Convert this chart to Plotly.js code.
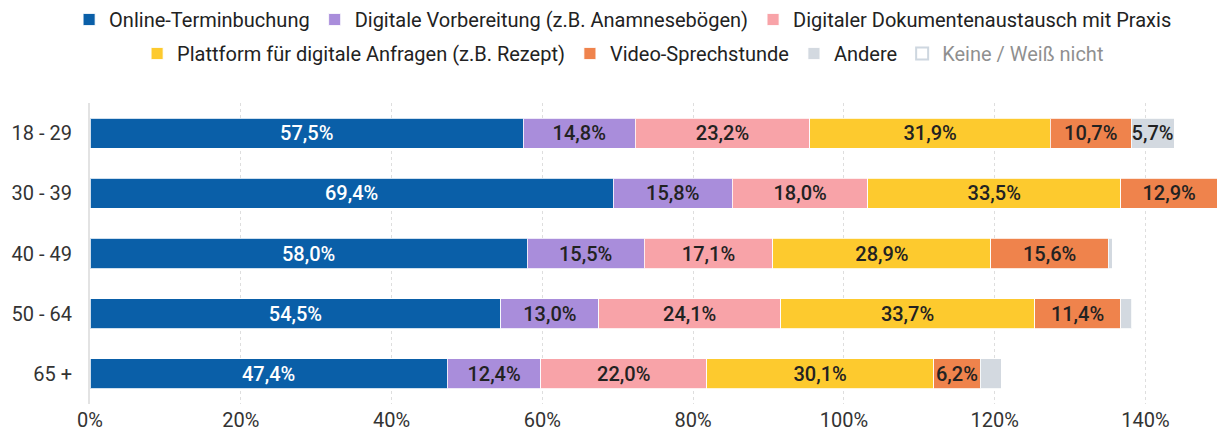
<!DOCTYPE html>
<html>
<head>
<meta charset="utf-8">
<script src="https://cdn.plot.ly/plotly-3.0.1.min.js"></script>
<style>html,body{margin:0;padding:0;background:#fff;}#chart{width:1217px;height:432px;}</style>
</head>
<body>
<div id="chart"></div>
<script>
const categories = ["18 - 29", "30 - 39", "40 - 49", "50 - 64", "65 +"];
const seriesNames = [
  "Online-Terminbuchung",
  "Digitale Vorbereitung (z.B. Anamnesebögen)",
  "Digitaler Dokumentenaustausch mit Praxis",
  "Plattform für digitale Anfragen (z.B. Rezept)",
  "Video-Sprechstunde",
  "Andere",
  "Keine / Weiß nicht"
];
const onlineTermin    = [57.5, 69.4, 58.0, 54.5, 47.4];
const digVorbereitung = [14.8, 15.8, 15.5, 13.0, 12.4];
const dokAustausch    = [23.2, 18.0, 17.1, 24.1, 22.0];
const plattform       = [31.9, 33.5, 28.9, 33.7, 30.1];
const videoSprech     = [10.7, 12.9, 15.6, 11.4, 6.2];
const andere          = [5.7, 1.0, 0.5, 1.5, 2.8];
const keine           = [null, null, null, null, null];
const xTickVals  = [0, 20, 40, 60, 80, 100, 120, 140];
const xTickText  = ["0%", "20%", "40%", "60%", "80%", "100%", "120%", "140%"];

const colors = ["#0a5fa8", "#a98ddb", "#f8a3a8", "#fdca2e", "#ef834c", "#d3d9e0", "#ffffff"];
const textColors = ["#ffffff", "#222222", "#222222", "#222222", "#222222", "#222222", "#222222"];
const values = [onlineTermin, digVorbereitung, dokAustausch, plattform, videoSprech, andere, keine];
const legendOf = ["legend", "legend", "legend", "legend2", "legend2", "legend2", "legend2"];

const traces = values.map((v, i) => ({
  type: "bar",
  orientation: "h",
  name: seriesNames[i],
  legend: legendOf[i],
  y: categories,
  x: v,
  width: 0.5,
  marker: {
    color: colors[i],
    line: i === 6 ? {color: "#9fb0c2", width: 2} : {color: "rgba(255,255,255,0.8)", width: 1}
  },
  texttemplate: v.map(val => (val !== null && val >= 5) ? "%{x:.1f}%" : ""),
  textposition: "inside",
  insidetextanchor: "middle",
  constraintext: "none",
  textangle: 0,
  insidetextfont: {family: "Roboto", size: 20, color: textColors[i], weight: 500},
  hoverinfo: "none",
  visible: i === 6 ? "legendonly" : true,
  cliponaxis: true
}));

const legendBase = {
  orientation: "h",
  xref: "container",
  yref: "container",
  xanchor: "center",
  yanchor: "top",
  font: {family: "Roboto", size: 20, color: "#222222"},
  traceorder: "normal",
  itemwidth: 30,
  bgcolor: "rgba(0,0,0,0)"
};

const layout = {
  width: 1217,
  height: 432,
  margin: {l: 90, r: 0, t: 103, b: 28},
  paper_bgcolor: "#ffffff",
  plot_bgcolor: "#ffffff",
  barmode: "stack",
  separators: ",.",
  font: {family: "Roboto", color: "#333333", size: 20},
  showlegend: true,
  legend: Object.assign({}, legendBase, {x: 0.512, y: 1.0}),
  legend2: Object.assign({}, legendBase, {x: 0.512, y: 1 - 34 / 432}),
  xaxis: {
    range: [0, 149.5],
    tickvals: xTickVals,
    ticktext: xTickText,
    showgrid: true,
    gridcolor: "#dedede",
    griddash: "dot",
    gridwidth: 1,
    zeroline: false,
    showline: false,
    ticks: "",
    ticklabelstandoff: 2,
    tickfont: {family: "Roboto", size: 20, color: "#333333"},
    fixedrange: true
  },
  yaxis: {
    type: "category",
    autorange: "reversed",
    showgrid: false,
    zeroline: false,
    showline: true,
    linecolor: "#e3e3e3",
    linewidth: 2,
    ticks: "",
    ticklabelstandoff: 12,
    tickfont: {family: "Roboto", size: 20, color: "#333333"},
    fixedrange: true
  }
};

Plotly.newPlot("chart", traces, layout, {displayModeBar: false, staticPlot: true});
</script>
</body>
</html>
